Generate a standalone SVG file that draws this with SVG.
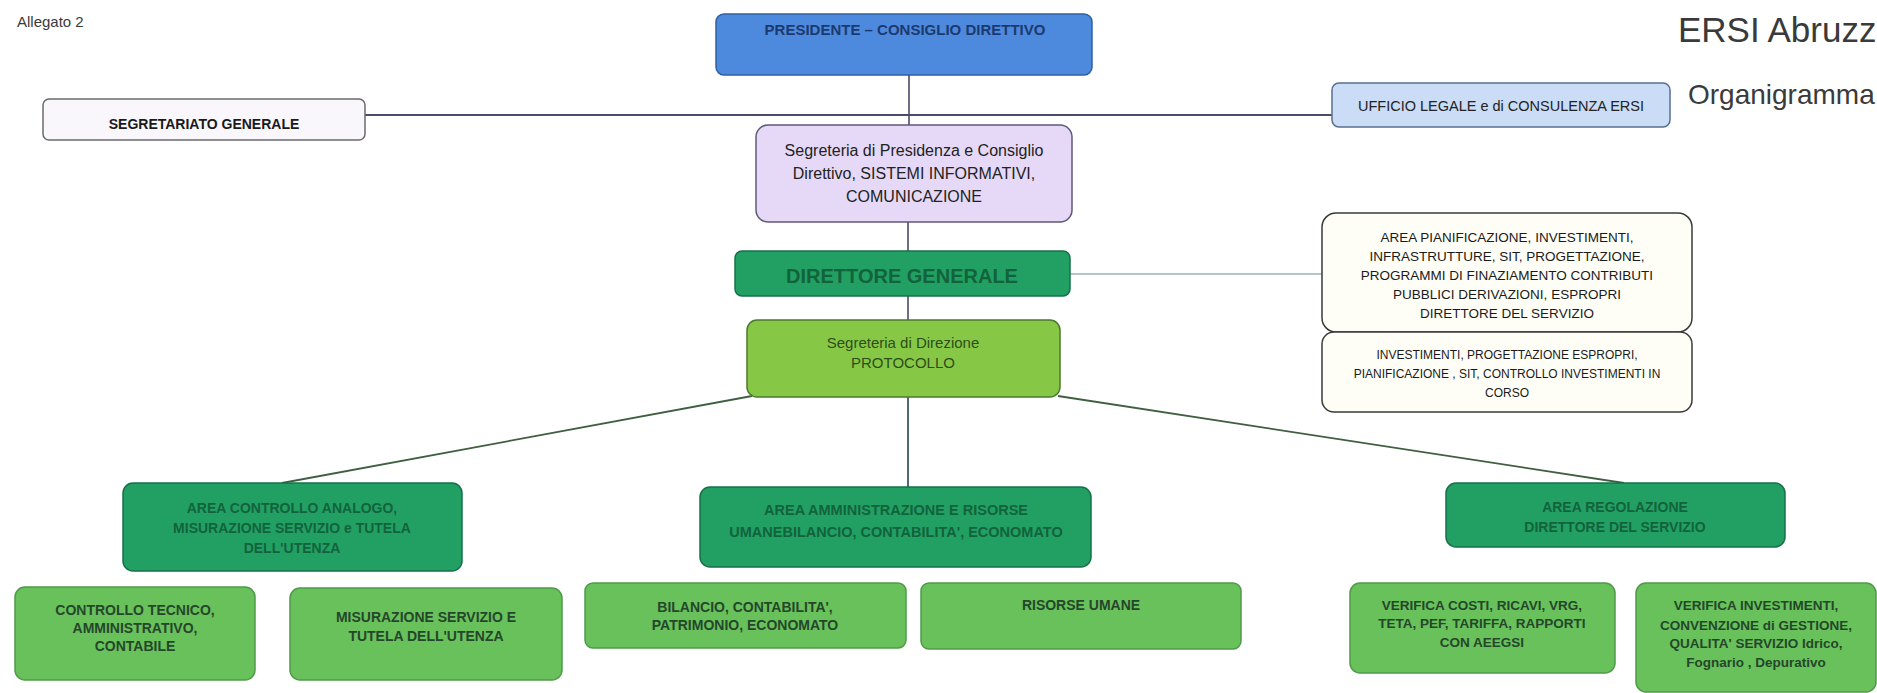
<svg xmlns="http://www.w3.org/2000/svg" width="1877" height="693" viewBox="0 0 1877 693">
<style>
text{font-family:"Liberation Sans",Arial,sans-serif;text-anchor:middle}
.lbl{text-anchor:start;fill:#3a3a3a}
.box{stroke-width:1.5}
.pres{fill:#4d8ade;stroke:#2f5f9f}
.lav{fill:#e6d9f7;stroke:#5d5a78}
.sg{fill:#f9f6fc;stroke:#6a6a70}
.uff{fill:#cadcf6;stroke:#5a6f90}
.dk{fill:#22a063;stroke:#17704a}
.yg{fill:#86c846;stroke:#4c7a2c}
.wh{fill:#fefef7;stroke:#3a3a3a}
.lg{fill:#69c15c;stroke:#4e9a48}
.tdk{fill:#12633c;font-weight:bold}
.tlg{fill:#24472a;font-weight:bold}
.conn{fill:none}
</style>
<rect width="1877" height="693" fill="#ffffff"/>
<text class="lbl" x="17" y="27" font-size="15">Allegato 2</text>
<text class="lbl" x="1678" y="42" font-size="35">ERSI Abruzz</text>
<text class="lbl" x="1688" y="104" font-size="28">Organigramma</text>

<g id="connectors" class="conn">
  <line x1="365" y1="115" x2="1332" y2="115" stroke="#4a4a6a" stroke-width="2"/>
  <line x1="909" y1="75" x2="909" y2="125" stroke="#4a4a6a" stroke-width="1.6"/>
  <line x1="908" y1="222" x2="908" y2="251" stroke="#4a4a6a" stroke-width="1.6"/>
  <line x1="908" y1="296" x2="908" y2="320" stroke="#4a4a6a" stroke-width="1.6"/>
  <line x1="1070" y1="274" x2="1322" y2="274" stroke="#9ab5b5" stroke-width="1.3"/>
  <line x1="752" y1="396" x2="282" y2="483" stroke="#3f5f40" stroke-width="1.8"/>
  <line x1="908" y1="397" x2="908" y2="488" stroke="#3c5866" stroke-width="1.8"/>
  <line x1="1058" y1="396" x2="1624" y2="483" stroke="#3f5f40" stroke-width="1.8"/>
</g>

<g id="segretariato-generale">
  <rect class="box sg" x="43" y="99" width="322" height="41" rx="6"/>
  <text x="204" y="129" font-size="14" font-weight="bold" fill="#1a1a1a">SEGRETARIATO GENERALE</text>
</g>
<g id="presidente">
  <rect class="box pres" x="716" y="14" width="376" height="61" rx="8"/>
  <text x="905" y="35" font-size="15" font-weight="bold" fill="#1c3a6e">PRESIDENTE – CONSIGLIO DIRETTIVO</text>
</g>
<g id="segreteria-presidenza">
  <rect class="box lav" x="756" y="125" width="316" height="97" rx="12"/>
  <text x="914" y="156" font-size="16" fill="#222">Segreteria di Presidenza e Consiglio</text>
  <text x="914" y="179" font-size="16" fill="#222">Direttivo, SISTEMI INFORMATIVI,</text>
  <text x="914" y="202" font-size="16" fill="#222">COMUNICAZIONE</text>
</g>
<g id="ufficio-legale">
  <rect class="box uff" x="1332" y="83" width="338" height="44" rx="7"/>
  <text x="1501" y="111" font-size="14.5" fill="#222">UFFICIO LEGALE e di CONSULENZA ERSI</text>
</g>
<g id="direttore-generale">
  <rect class="box dk" x="735" y="251" width="335" height="45" rx="7"/>
  <text class="tdk" x="902" y="283" font-size="20">DIRETTORE GENERALE</text>
</g>
<g id="segreteria-direzione">
  <rect class="box yg" x="747" y="320" width="313" height="77" rx="10"/>
  <text x="903" y="348" font-size="15" fill="#2e4d1a">Segreteria di Direzione</text>
  <text x="903" y="368" font-size="15" fill="#2e4d1a">PROTOCOLLO</text>
</g>
<g id="area-pianificazione">
  <rect class="box wh" x="1322" y="213" width="370" height="119" rx="14"/>
  <text x="1507" y="242" font-size="13.5" fill="#1a1a1a">AREA PIANIFICAZIONE, INVESTIMENTI,</text>
  <text x="1507" y="261" font-size="13.5" fill="#1a1a1a">INFRASTRUTTURE, SIT, PROGETTAZIONE,</text>
  <text x="1507" y="280" font-size="13.5" fill="#1a1a1a">PROGRAMMI DI FINAZIAMENTO CONTRIBUTI</text>
  <text x="1507" y="299" font-size="13.5" fill="#1a1a1a">PUBBLICI DERIVAZIONI, ESPROPRI</text>
  <text x="1507" y="318" font-size="13.5" fill="#1a1a1a">DIRETTORE DEL SERVIZIO</text>
</g>
<g id="investimenti">
  <rect class="box wh" x="1322" y="332" width="370" height="80" rx="12"/>
  <text x="1507" y="359" font-size="12" fill="#1a1a1a">INVESTIMENTI, PROGETTAZIONE ESPROPRI,</text>
  <text x="1507" y="378" font-size="12" fill="#1a1a1a">PIANIFICAZIONE , SIT, CONTROLLO INVESTIMENTI IN</text>
  <text x="1507" y="397" font-size="12" fill="#1a1a1a">CORSO</text>
</g>
<g id="area-controllo-analogo">
  <rect class="box dk" x="123" y="483" width="339" height="88" rx="10"/>
  <text class="tdk" x="292" y="513" font-size="14">AREA CONTROLLO ANALOGO,</text>
  <text class="tdk" x="292" y="533" font-size="14">MISURAZIONE SERVIZIO e TUTELA</text>
  <text class="tdk" x="292" y="553" font-size="14">DELL'UTENZA</text>
</g>
<g id="area-amministrazione">
  <rect class="box dk" x="700" y="487" width="391" height="80" rx="10"/>
  <text class="tdk" x="896" y="515" font-size="14.5">AREA AMMINISTRAZIONE E RISORSE</text>
  <text class="tdk" x="896" y="537" font-size="14.5">UMANEBILANCIO, CONTABILITA', ECONOMATO</text>
</g>
<g id="area-regolazione">
  <rect class="box dk" x="1446" y="483" width="339" height="64" rx="10"/>
  <text class="tdk" x="1615" y="512" font-size="14">AREA REGOLAZIONE</text>
  <text class="tdk" x="1615" y="532" font-size="14">DIRETTORE DEL SERVIZIO</text>
</g>
<g id="controllo-tecnico">
  <rect class="box lg" x="15" y="587" width="240" height="93" rx="10"/>
  <text class="tlg" x="135" y="615" font-size="14">CONTROLLO TECNICO,</text>
  <text class="tlg" x="135" y="633" font-size="14">AMMINISTRATIVO,</text>
  <text class="tlg" x="135" y="651" font-size="14">CONTABILE</text>
</g>
<g id="misurazione-servizio">
  <rect class="box lg" x="290" y="588" width="272" height="92" rx="10"/>
  <text class="tlg" x="426" y="622" font-size="14">MISURAZIONE SERVIZIO E</text>
  <text class="tlg" x="426" y="641" font-size="14">TUTELA DELL'UTENZA</text>
</g>
<g id="bilancio">
  <rect class="box lg" x="585" y="583" width="321" height="65" rx="8"/>
  <text class="tlg" x="745" y="612" font-size="14">BILANCIO, CONTABILITA',</text>
  <text class="tlg" x="745" y="630" font-size="14">PATRIMONIO, ECONOMATO</text>
</g>
<g id="risorse-umane">
  <rect class="box lg" x="921" y="583" width="320" height="66" rx="8"/>
  <text class="tlg" x="1081" y="610" font-size="14">RISORSE UMANE</text>
</g>
<g id="verifica-costi">
  <rect class="box lg" x="1350" y="583" width="265" height="90" rx="10"/>
  <text class="tlg" x="1482" y="610" font-size="13.5">VERIFICA COSTI, RICAVI, VRG,</text>
  <text class="tlg" x="1482" y="628" font-size="13.5">TETA, PEF, TARIFFA, RAPPORTI</text>
  <text class="tlg" x="1482" y="647" font-size="13.5">CON AEEGSI</text>
</g>
<g id="verifica-investimenti">
  <rect class="box lg" x="1636" y="583" width="240" height="109" rx="10"/>
  <text class="tlg" x="1756" y="610" font-size="13.5">VERIFICA INVESTIMENTI,</text>
  <text class="tlg" x="1756" y="630" font-size="13.5">CONVENZIONE di GESTIONE,</text>
  <text class="tlg" x="1756" y="648" font-size="13.5">QUALITA' SERVIZIO Idrico,</text>
  <text class="tlg" x="1756" y="667" font-size="13.5">Fognario , Depurativo</text>
</g>
</svg>
